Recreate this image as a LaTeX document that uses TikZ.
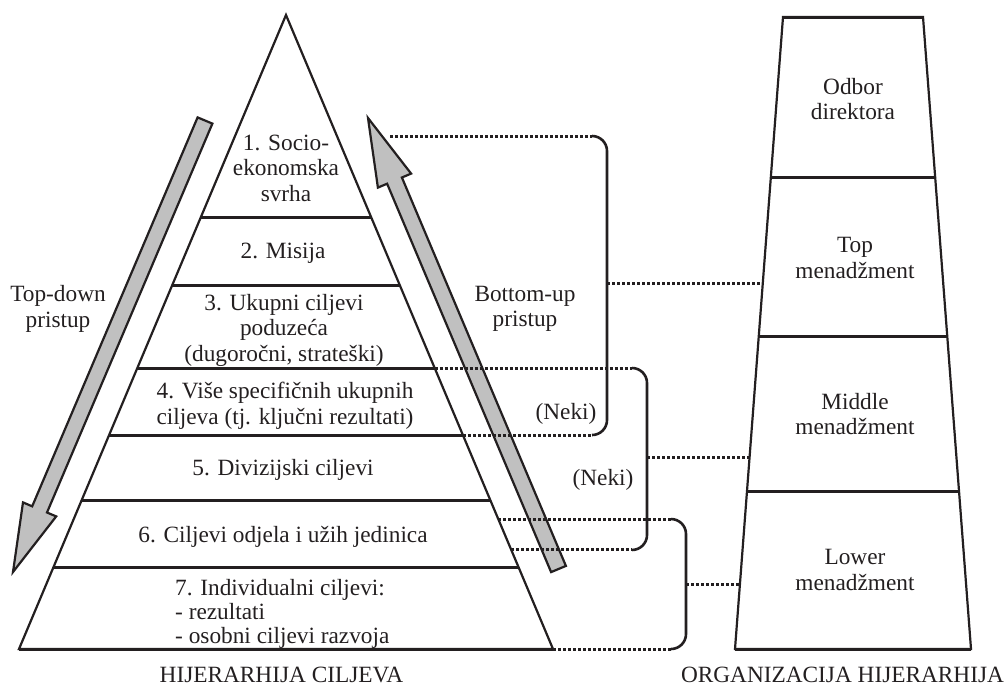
\documentclass[tikz,border=0pt]{standalone}
\usepackage{fontspec}
\setmainfont{Liberation Serif}
\usetikzlibrary{calc}
\definecolor{ink}{HTML}{231F20}
\definecolor{arrowgray}{HTML}{C0C0C0}
\begin{document}
\begin{tikzpicture}[x=1pt,y=-1pt,
  every node/.style={inner sep=0pt, text=ink, font=\fontsize{23.3}{25.5}\selectfont},
  edge/.style={draw=ink, line width=2.2pt, line join=miter},
  level/.style={draw=ink, line width=3pt},
  blockarrow/.style={draw=ink, fill=arrowgray, line width=2.2pt, line join=miter},
  link/.style={draw=ink, line width=3pt, dash pattern=on 3pt off 2pt},
  bracket/.style={draw=ink, line width=2.6pt, rounded corners=15pt},
  label/.style={align=center},
]
\path[use as bounding box] (0,0) rectangle (1008,686);

% ---- goal pyramid ----
\coordinate (apex) at (286,15);
\coordinate (pbl) at (19,649);
\coordinate (pbr) at (553,649);
\draw[edge] (pbl) -- (apex) -- (pbr) -- cycle;
\foreach \t/\n in {0.3186/1,0.4259/2,0.5568/3,0.6625/4,0.7650/5,0.8707/6}{
  \coordinate (PL\n) at ($(apex)!\t!(pbl)$);
  \coordinate (PR\n) at ($(apex)!\t!(pbr)$);
  \draw[level] (PL\n) -- (PR\n);
}
\draw[level] (pbl) -- (pbr);

% ---- organisation column ----
\coordinate (otl) at (783,17);
\coordinate (otr) at (923,17);
\coordinate (obl) at (735,649);
\coordinate (obr) at (971,649);
\draw[edge] (otl) -- (otr) -- (obr) -- (obl) -- cycle;
\foreach \t/\n in {0.2532/1,0.5063/2,0.75/3}{
  \draw[level] ($(otl)!\t!(obl)$) -- ($(otr)!\t!(obr)$);
}
\draw[level] (otl) -- (otr);
\draw[level] (obl) -- (obr);

% ---- block arrows ----
\draw[blockarrow] (212.4,123.6) -- (47.0,512.5) -- (56.2,516.4) -- (13,572)
  -- (23.0,502.4) -- (32.2,506.3) -- (197.6,117.4) -- cycle;
\draw[blockarrow] (551.1,572.1) -- (387.1,183.7) -- (377.9,187.6) -- (368,118)
  -- (411.1,173.6) -- (401.9,177.5) -- (565.9,565.9) -- cycle;

% ---- brackets and dotted links ----
\coordinate (tz1) at ($(otl)!0.4209!(obl)$);
\coordinate (tz2) at ($(otl)!0.6962!(obl)$);
\coordinate (tz3) at ($(otl)!0.8987!(obl)$);
\coordinate (p2b) at ($(apex)!0.8438!(pbr)$);
\coordinate (p3t) at ($(apex)!0.7950!(pbr)$);
\coordinate (b1s) at (390,136);
\coordinate (x2) at (647,0);
\coordinate (x3) at (686,0);

\coordinate (b1t) at (607,136);
\coordinate (b1b) at (b1t |- PR4);
\coordinate (b2t) at (x2 |- PR3);
\coordinate (b2b) at (x2 |- p2b);
\coordinate (b3t) at (x3 |- p3t);
\coordinate (b3b) at (x3 |- pbr);

\draw[link] (b1s) -- ($(b1t)+(-15,0)$);
\draw[link] (PR4) -- ($(b1b)+(-15,0)$);
\draw[link] (b1t |- tz1) -- (tz1);
\draw[bracket] ($(b1t)+(-15,0)$) -- (b1t) -- (b1b) -- ($(b1b)+(-15,0)$);

\draw[link] (PR3) -- ($(b2t)+(-15,0)$);
\draw[link] (p2b) -- ($(b2b)+(-15,0)$);
\draw[link] (b2t |- tz2) -- (tz2);
\draw[bracket] ($(b2t)+(-15,0)$) -- (b2t) -- (b2b) -- ($(b2b)+(-15,0)$);

\draw[link] (p3t) -- ($(b3t)+(-15,0)$);
\draw[link] (pbr) -- ($(b3b)+(-15,0)$);
\draw[link] (b3t |- tz3) -- (tz3);
\draw[bracket] ($(b3t)+(-15,0)$) -- (b3t) -- (b3b) -- ($(b3b)+(-15,0)$);

% ---- pyramid labels ----
\node[label] (g1) at (286,168) {1. Socio-\\ekonomska\\svrha};
\node[label] (g2) at (283,253) {2. Misija};
\node[label] (g3) at (284,330) {3. Ukupni ciljevi\\poduzeća\\(dugoročni, strateški)};
\node[label] (g4) at (285,406) {4. Više specifičnih ukupnih\\ciljeva (tj. ključni rezultati)};
\node[label] (g5) at (283,470) {5. Divizijski ciljevi};
\node[label] (g6) at (283,537) {6. Ciljevi odjela i užih jedinica};
\node[align=left, anchor=west, font=\fontsize{23.3}{24}\selectfont] (g7) at (175,614) {7. Individualni ciljevi:\\- rezultati\\- osobni ciljevi razvoja};

% ---- side labels ----
\node[label] (td) at (58,309) {Top-down\\pristup};
\node[label] (bu) at (525,309) {Bottom-up\\pristup};
\node (n1) at (566,414) {(Neki)};
\node (n2) at (603,480) {(Neki)};

% ---- organisation labels ----
\node[label] (o1) at (853,99) {Odbor\\direktora};
\node[label] (o2) at (855,258) {Top\\menadžment};
\node[label] (o3) at (855,414) {Middle\\menadžment};
\node[label] (o4) at (855,570) {Lower\\menadžment};

% ---- captions ----
\node[anchor=base] (cap1) at (281.5,682) {HIJERARHIJA CILJEVA};
\node[anchor=base] (cap2) at (842.5,682) {ORGANIZACIJA HIJERARHIJA};
\end{tikzpicture}
\end{document}
